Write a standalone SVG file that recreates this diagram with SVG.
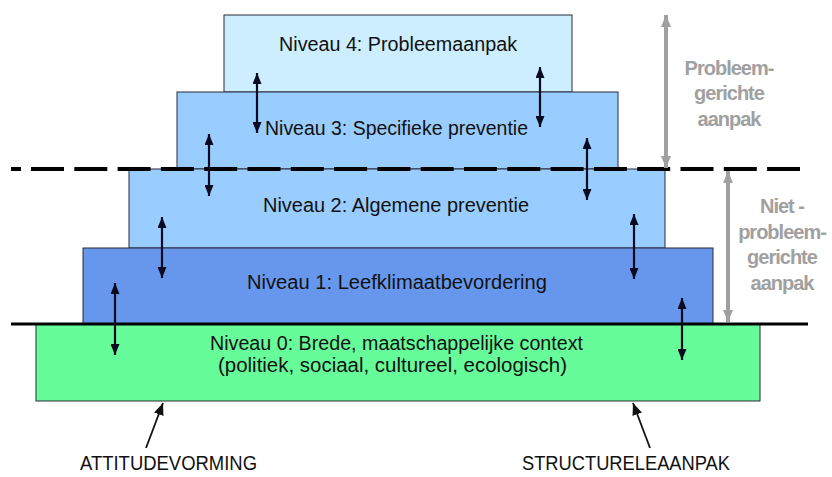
<svg xmlns="http://www.w3.org/2000/svg" width="832" height="477" viewBox="0 0 832 477">
<style>
.box{stroke:#2a2a3a;stroke-width:1}
.lbl{font-family:"Liberation Sans",Arial,sans-serif;font-size:20px;fill:#111}
.cap{font-family:"Liberation Sans",Arial,sans-serif;font-size:21px;fill:#111}
.gray{font-family:"Liberation Sans",Arial,sans-serif;font-size:20px;font-weight:bold;fill:#a0a0a0;text-anchor:middle;letter-spacing:-1px}
.arr{stroke:#0a0a20;stroke-width:2.2;fill:none;marker-start:url(#hb);marker-end:url(#hb)}
.garr{stroke:#a0a0a0;stroke-width:4;fill:none;marker-start:url(#hg);marker-end:url(#hg)}
.diag{stroke:#111;stroke-width:1.8;fill:none;marker-end:url(#hd)}
</style>
<defs>
<marker id="hb" markerUnits="userSpaceOnUse" markerWidth="11" markerHeight="9" refX="11" refY="4.5" orient="auto-start-reverse"><path d="M0,0 L11,4.5 L0,9 z" fill="#0a0a20"/></marker>
<marker id="hg" markerUnits="userSpaceOnUse" markerWidth="12" markerHeight="10" refX="12" refY="5" orient="auto-start-reverse"><path d="M0,0 L12,5 L0,10 z" fill="#a0a0a0"/></marker>
<marker id="hd" markerUnits="userSpaceOnUse" markerWidth="12" markerHeight="10" refX="12" refY="5" orient="auto"><path d="M0,0 L12,5 L0,10 z" fill="#111"/></marker>
</defs>
<rect width="832" height="477" fill="#fff"/>
<g id="niveau4"><rect class="box" x="224" y="15" width="348" height="77" fill="#cceeff"/></g>
<g id="niveau3"><rect class="box" x="177" y="92" width="441" height="77" fill="#99ccff"/></g>
<g id="niveau2"><rect class="box" x="129" y="169" width="536" height="79" fill="#99ccff"/></g>
<g id="niveau1"><rect class="box" x="83" y="248" width="630" height="76" fill="#6797ec"/></g>
<g id="niveau0"><rect class="box" x="36" y="324" width="724" height="77" fill="#66fc99"/></g>
<g id="lines">
<line x1="11" y1="324" x2="808" y2="324" stroke="#000" stroke-width="3"/>
<line x1="11" y1="169" x2="21" y2="169" stroke="#000" stroke-width="4"/>
<line x1="31" y1="169" x2="800" y2="169" stroke="#000" stroke-width="4" stroke-dasharray="33 10.3"/>
</g>
<g id="connectors">
<line class="arr" x1="257" y1="73" x2="257" y2="133"/>
<line class="arr" x1="540" y1="67" x2="540" y2="127"/>
<line class="arr" x1="209" y1="134" x2="209" y2="196"/>
<line class="arr" x1="587" y1="138" x2="587" y2="200"/>
<line class="arr" x1="162" y1="217" x2="162" y2="278"/>
<line class="arr" x1="634" y1="214" x2="634" y2="279"/>
<line class="arr" x1="115" y1="283" x2="115" y2="355"/>
<line class="arr" x1="682" y1="298" x2="682" y2="360"/>
<line class="garr" x1="666" y1="15" x2="666" y2="168"/>
<line class="garr" x1="728" y1="171" x2="728" y2="322"/>
<line class="diag" x1="146" y1="448" x2="163" y2="403"/>
<line class="diag" x1="650" y1="448" x2="633" y2="403"/>
</g>
<g id="labels">
<text class="lbl" x="279" y="51" textLength="238" lengthAdjust="spacingAndGlyphs">Niveau 4: Probleemaanpak</text>
<text class="lbl" x="265" y="135" textLength="263" lengthAdjust="spacingAndGlyphs">Niveau 3: Specifieke preventie</text>
<text class="lbl" x="263" y="212" textLength="266" lengthAdjust="spacingAndGlyphs">Niveau 2: Algemene preventie</text>
<text class="lbl" x="247" y="289" textLength="300" lengthAdjust="spacingAndGlyphs">Niveau 1: Leefklimaatbevordering</text>
<text class="lbl" x="210" y="350" textLength="373" lengthAdjust="spacingAndGlyphs">Niveau 0: Brede, maatschappelijke context</text>
<text class="lbl" x="218" y="372" textLength="349" lengthAdjust="spacingAndGlyphs">(politiek, sociaal, cultureel, ecologisch)</text>
<text class="cap" x="80" y="470" textLength="177" lengthAdjust="spacingAndGlyphs">ATTITUDEVORMING</text>
<text class="cap" x="522" y="470" textLength="208" lengthAdjust="spacingAndGlyphs">STRUCTURELEAANPAK</text>
<text class="gray" x="729" y="75">Probleem-</text>
<text class="gray" x="729" y="100">gerichte</text>
<text class="gray" x="729" y="126">aanpak</text>
<text class="gray" x="782" y="213">Niet -</text>
<text class="gray" x="782" y="239">probleem-</text>
<text class="gray" x="782" y="264">gerichte</text>
<text class="gray" x="782" y="290">aanpak</text>
</g>
</svg>
